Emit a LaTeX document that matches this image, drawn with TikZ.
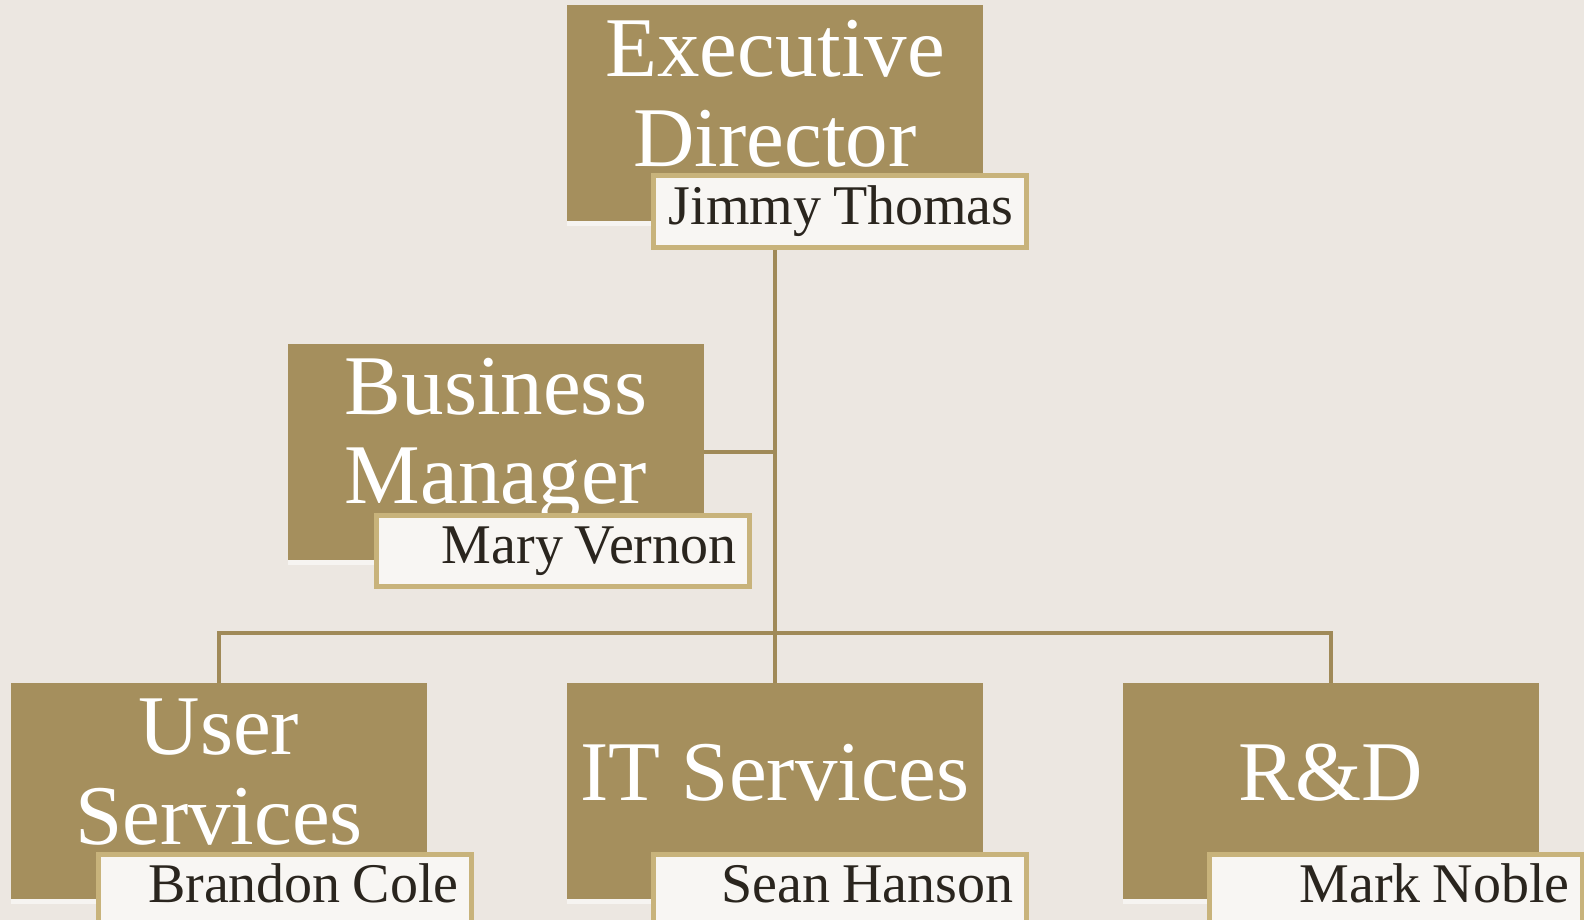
\documentclass[tikz,border=0pt]{standalone}
\usepackage{fontspec}
\setmainfont{Liberation Serif}
\usetikzlibrary{shadows}
\definecolor{bgc}{HTML}{ECE7E1}
\definecolor{kraft}{HTML}{A58F5D}
\definecolor{linec}{HTML}{A08A58}
\definecolor{nameborder}{HTML}{C8B37B}
\definecolor{namefill}{HTML}{F8F6F3}
\definecolor{nametext}{HTML}{2A251E}
\newcommand\titlefnt{\fontsize{85}{89.5}\selectfont}
\newcommand\namefnt{\fontsize{56}{60}\selectfont}
\newcommand\rjust[1]{\hbox to 348pt{\spaceskip=0.21em\relax\hss #1}}
\tikzset{
  rolebox/.style={fill=kraft, minimum width=416pt, minimum height=216pt, inner sep=0pt, anchor=north west,
    drop shadow={fill=white, opacity=0.55, shadow xshift=0pt, shadow yshift=-5pt}},
  roletext/.style={text=white, font=\titlefnt, align=center, inner sep=0pt},
  namebox/.style={draw=nameborder, line width=5pt, fill=namefill, anchor=north west,
    text width=348pt, inner xsep=12.5pt, inner ysep=0pt,
    text height=48.5pt, text depth=22.5pt, font=\namefnt, text=nametext},
  conn/.style={draw=linec, line width=4.5pt}
}
\begin{document}
\begin{tikzpicture}[x=1pt,y=-1pt]
\useasboundingbox (0,0) rectangle (1584,920);
\fill[bgc] (0,0) rectangle (1584,920);
% role boxes
\node[rolebox] (ex) at (567,5) {};
\node[rolebox] (bm) at (288,344) {};
\node[rolebox] (us) at (11,683) {};
\node[rolebox] (it) at (567,683) {};
\node[rolebox] (rd) at (1123,683) {};
% connectors
\coordinate (bar) at (775,633);
\draw[conn] (ex.south) -- (it.north);
\draw[conn] (bm.east) -- (bm.east -| ex.south);
\draw[conn] (us.north) |- (bar) -| (rd.north);
% role titles
\node[roletext] (exT) at (775,94) {Executive\\Director};
\node[roletext] (bmT) at (496,440) {Business\\Manager};
\node[roletext] (usT) at (219,772) {User\\Services};
\node[roletext, anchor=base] (itT) at (775,800) {IT Services};
\node[roletext, anchor=base] (rdT) at (1331,800) {R\&D};
% name boxes
\node[namebox] (exN) at (650.5,173.5) {\rjust{Jimmy Thomas}};
\node[namebox] (bmN) at (373.5,512.5) {\rjust{Mary Vernon}};
\node[namebox] (usN) at (95.5,851.5) {\rjust{Brandon Cole}};
\node[namebox] (itN) at (650.5,851.5) {\rjust{Sean Hanson}};
\node[namebox] (rdN) at (1206.5,851.5) {\rjust{Mark Noble}};
\end{tikzpicture}
\end{document}
